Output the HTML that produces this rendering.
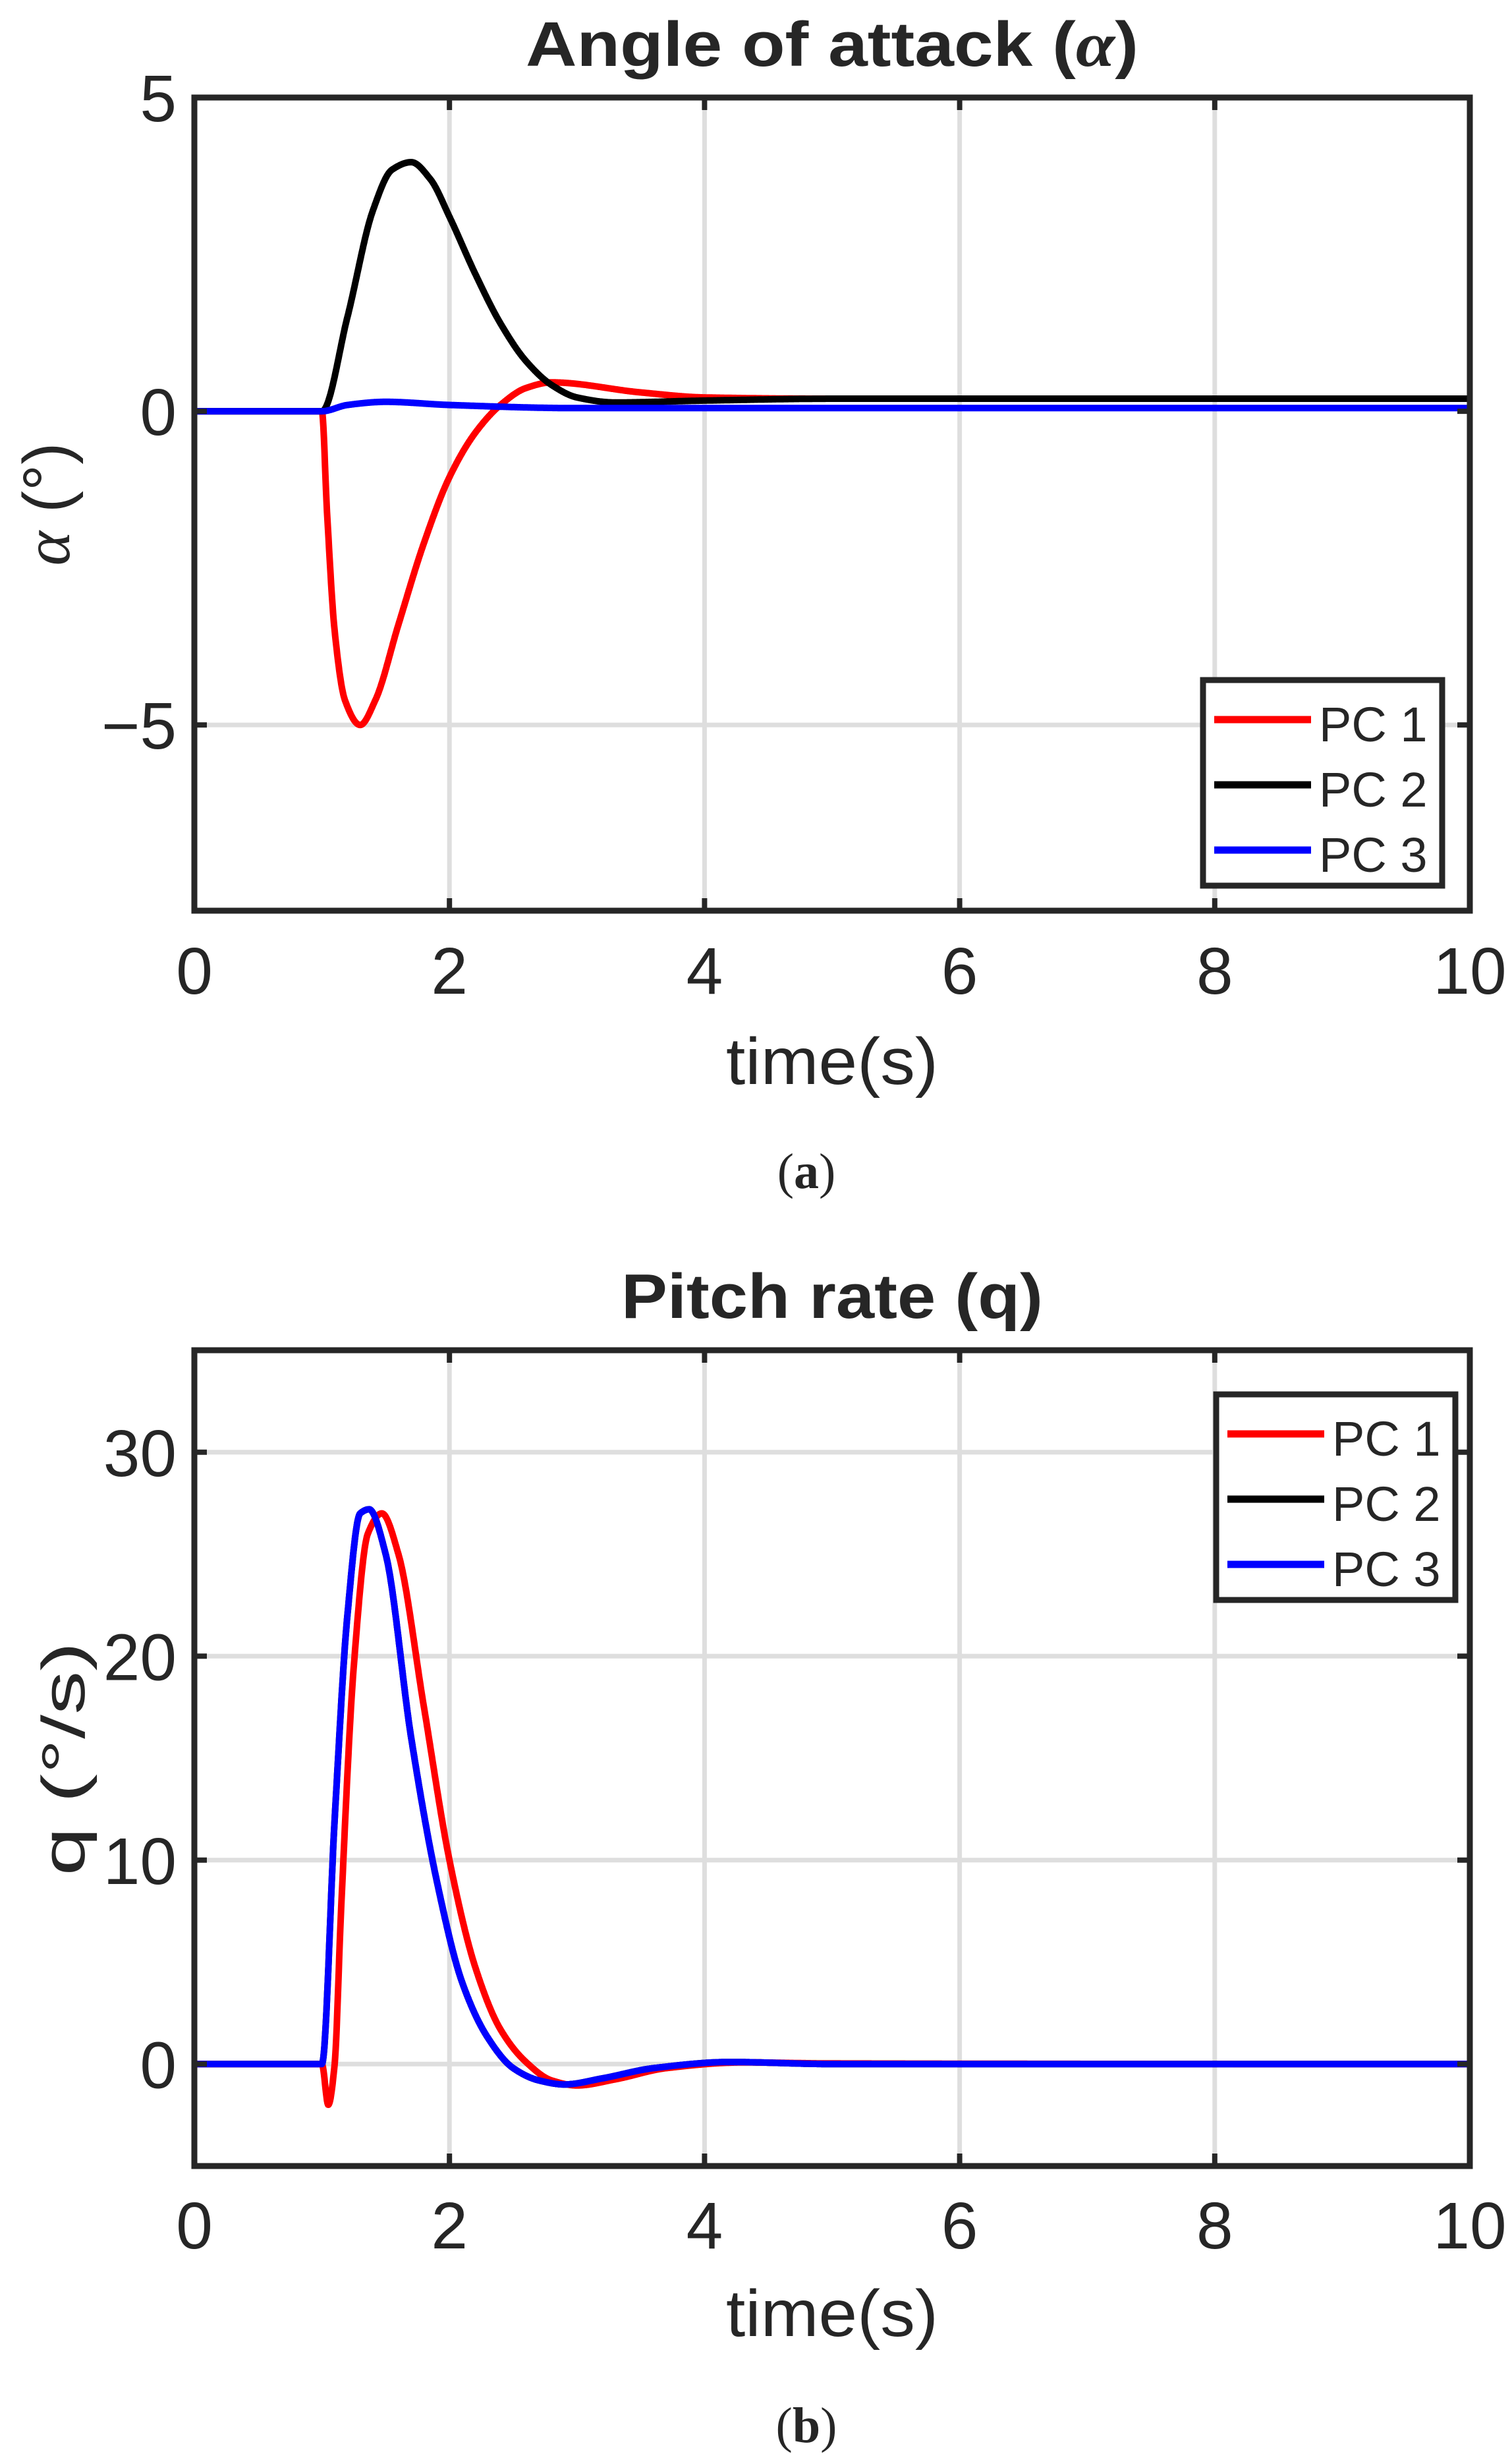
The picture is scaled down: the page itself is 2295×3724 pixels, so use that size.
<!DOCTYPE html>
<html><head><meta charset="utf-8"><style>
html,body{margin:0;padding:0;background:#fff;}
svg{display:block;}
text{font-family:"Liberation Sans",Arial,sans-serif;fill:#262626;}
</style></head><body>
<svg id="s" width="2295" height="3724" xmlns="http://www.w3.org/2000/svg">
<rect width="2295" height="3724" fill="#fff"/>
<g id="p1"></g><g id="p2"></g>
<text x="1263" y="100" font-size="96" font-weight="bold" text-anchor="middle" textLength="930" lengthAdjust="spacingAndGlyphs">Angle of attack (<tspan font-family="Liberation Serif" font-style="italic">α</tspan>)</text>
<text x="1263" y="2000" font-size="96" font-weight="bold" text-anchor="middle" textLength="640" lengthAdjust="spacingAndGlyphs">Pitch rate (q)</text>
<text x="1263" y="1645" font-size="100" text-anchor="middle" textLength="322" lengthAdjust="spacingAndGlyphs">time(s)</text>
<text x="1263" y="3545" font-size="100" text-anchor="middle" textLength="322" lengthAdjust="spacingAndGlyphs">time(s)</text>
<text transform="translate(105,765) rotate(-90)" font-size="100" text-anchor="middle"><tspan font-family="Liberation Serif" font-style="italic">α</tspan> (°)</text>
<text transform="translate(128,2669) rotate(-90)" font-size="92" text-anchor="middle" textLength="355" lengthAdjust="spacingAndGlyphs">q (°/s)</text>
<text x="1224" y="1803" font-size="76" text-anchor="middle" style="font-family:'Liberation Serif',serif">(<tspan font-weight="bold">a</tspan>)</text>
<text x="1224" y="3706" font-size="76" text-anchor="middle" style="font-family:'Liberation Serif',serif">(<tspan font-weight="bold">b</tspan>)</text>
</svg>
<script>
var NS="http://www.w3.org/2000/svg";
function el(p,t,a,txt){var e=document.createElementNS(NS,t);for(var k in a)e.setAttribute(k,a[k]);if(txt!==undefined)e.textContent=txt;p.appendChild(e);return e;}
function mono(pts){var n=pts.length,d=[],m=[];
 for(var i=0;i<n-1;i++)d.push((pts[i+1][1]-pts[i][1])/(pts[i+1][0]-pts[i][0]));
 m[0]=0;m[n-1]=0;
 for(var i=1;i<n-1;i++){if(d[i-1]*d[i]<=0)m[i]=0;else{var h0=pts[i][0]-pts[i-1][0],h1=pts[i+1][0]-pts[i][0];var w1=2*h1+h0,w2=h1+2*h0;m[i]=(w1+w2)/(w1/d[i-1]+w2/d[i]);}}
 return function(t){for(var i=0;i<n-1;i++){if(t<=pts[i+1][0]){var h=pts[i+1][0]-pts[i][0],u=(t-pts[i][0])/h,u2=u*u,u3=u2*u;
  return (2*u3-3*u2+1)*pts[i][1]+(u3-2*u2+u)*h*m[i]+(-2*u3+3*u2)*pts[i+1][1]+(u3-u2)*h*m[i+1];}}return pts[n-1][1];};}
function plot(g,cfg){
 var X0=295,X1=2231,Y0=cfg.top,Y1=cfg.bot;
 var sx=function(v){return X0+(v)*(X1-X0)/10;};
 var sy=function(v){return Y1-(v-cfg.ymin)*(Y1-Y0)/(cfg.ymax-cfg.ymin);};
 [2,4,6,8].forEach(function(v){el(g,"line",{x1:sx(v),x2:sx(v),y1:Y0,y2:Y1,stroke:"#dedede","stroke-width":7});});
 cfg.grid.forEach(function(v){el(g,"line",{x1:X0,x2:X1,y1:sy(v),y2:sy(v),stroke:"#dedede","stroke-width":7});});
 cfg.series.forEach(function(s){var f=mono(s.p);var d="";for(var t=0;t<=10.0001;t+=0.004){var tt=Math.min(t,10);d+=(d?"L":"M")+sx(tt).toFixed(1)+","+sy(f(tt)).toFixed(1);}
  el(g,"path",{d:d,fill:"none",stroke:s.c,"stroke-width":10,"stroke-linejoin":"round"});});
 [0,2,4,6,8,10].forEach(function(v){el(g,"line",{x1:sx(v),x2:sx(v),y1:Y1,y2:Y1-19,stroke:"#262626","stroke-width":8});el(g,"line",{x1:sx(v),x2:sx(v),y1:Y0,y2:Y0+19,stroke:"#262626","stroke-width":8});
  el(g,"text",{x:sx(v),y:cfg.xlab,"font-size":100,"text-anchor":"middle"},String(v));});
 cfg.yt.forEach(function(v){el(g,"line",{x1:X0,x2:X0+19,y1:sy(v),y2:sy(v),stroke:"#262626","stroke-width":8});el(g,"line",{x1:X1,x2:X1-19,y1:sy(v),y2:sy(v),stroke:"#262626","stroke-width":8});
  el(g,"text",{x:268,y:sy(v)+36,"font-size":100,"text-anchor":"end"},v<0?"\u2212"+(-v):String(v));});
 el(g,"rect",{x:X0,y:Y0,width:X1-X0,height:Y1-Y0,fill:"none",stroke:"#262626","stroke-width":9});
 var L=cfg.leg;el(g,"rect",{x:L.x,y:L.y,width:363,height:312,fill:"#fff",stroke:"#262626","stroke-width":9});
 [["#ff0000","PC 1"],["#000000","PC 2"],["#0000ff","PC 3"]].forEach(function(e,i){var b=L.y+93+i*99;
  el(g,"line",{x1:L.x+17,x2:L.x+164,y1:b-33,y2:b-33,stroke:e[0],"stroke-width":11});
  el(g,"text",{x:L.x+176,y:b,"font-size":74,fill:"#000"},e[1]);});
}
plot(document.getElementById("p1"),{top:148,bot:1382,ymin:-7.96,ymax:5,yt:[-5,0,5],grid:[-5],xlab:1508,leg:{x:1826,y:1032},
 series:[
 {c:"#ff0000",p:[[0,0],[1,0],[1.04,-1.6],[1.1,-3.5],[1.18,-4.6],[1.3,-5],[1.42,-4.6],[1.6,-3.4],[1.8,-2.1],[2.0,-1.05],[2.2,-0.35],[2.4,0.1],[2.6,0.37],[2.8,0.46],[3.5,0.3],[4,0.22],[5,0.2],[10,0.2]]},
 {c:"#000000",p:[[0,0],[1,0],[1.2,1.5],[1.4,3.2],[1.55,3.85],[1.7,3.97],[1.85,3.7],[2.0,3.1],[2.2,2.2],[2.4,1.4],[2.6,0.8],[2.8,0.42],[3.0,0.22],[3.3,0.14],[4,0.17],[5,0.2],[10,0.2]]},
 {c:"#0000ff",p:[[0,0],[1,0],[1.2,0.1],[1.5,0.15],[2,0.1],[3,0.05],[10,0.05]]}
 ]});
plot(document.getElementById("p2"),{top:2049,bot:3287,ymin:-5,ymax:35,yt:[0,10,20,30],grid:[0,10,20,30],xlab:3412,leg:{x:1846,y:2116},
 series:[
 {c:"#000000",p:[[0,0],[1,0],[1.1,12],[1.2,22],[1.3,27],[1.37,27.2],[1.5,25],[1.7,16],[1.9,9],[2.1,4],[2.3,1.3],[2.5,-0.2],[2.7,-0.8],[2.9,-1],[3.2,-0.7],[3.6,-0.2],[4.2,0.1],[5,0],[10,0]]},
 {c:"#ff0000",p:[[0,0],[1,0],[1.05,-2],[1.1,0],[1.15,7.5],[1.25,19.5],[1.36,26],[1.47,27],[1.6,25],[1.8,17.5],[2.0,10],[2.2,4.8],[2.4,1.7],[2.6,0.1],[2.8,-0.8],[3.0,-1.05],[3.3,-0.75],[3.7,-0.2],[4.3,0.08],[5,0.03],[10,0]]},
 {c:"#0000ff",p:[[0,0],[1,0],[1.1,12],[1.2,22],[1.3,27],[1.37,27.2],[1.5,25],[1.7,16],[1.9,9],[2.1,4],[2.3,1.3],[2.5,-0.2],[2.7,-0.8],[2.9,-1],[3.2,-0.7],[3.6,-0.2],[4.2,0.1],[5,0],[10,0]]}
 ]});
</script>
</body></html>
